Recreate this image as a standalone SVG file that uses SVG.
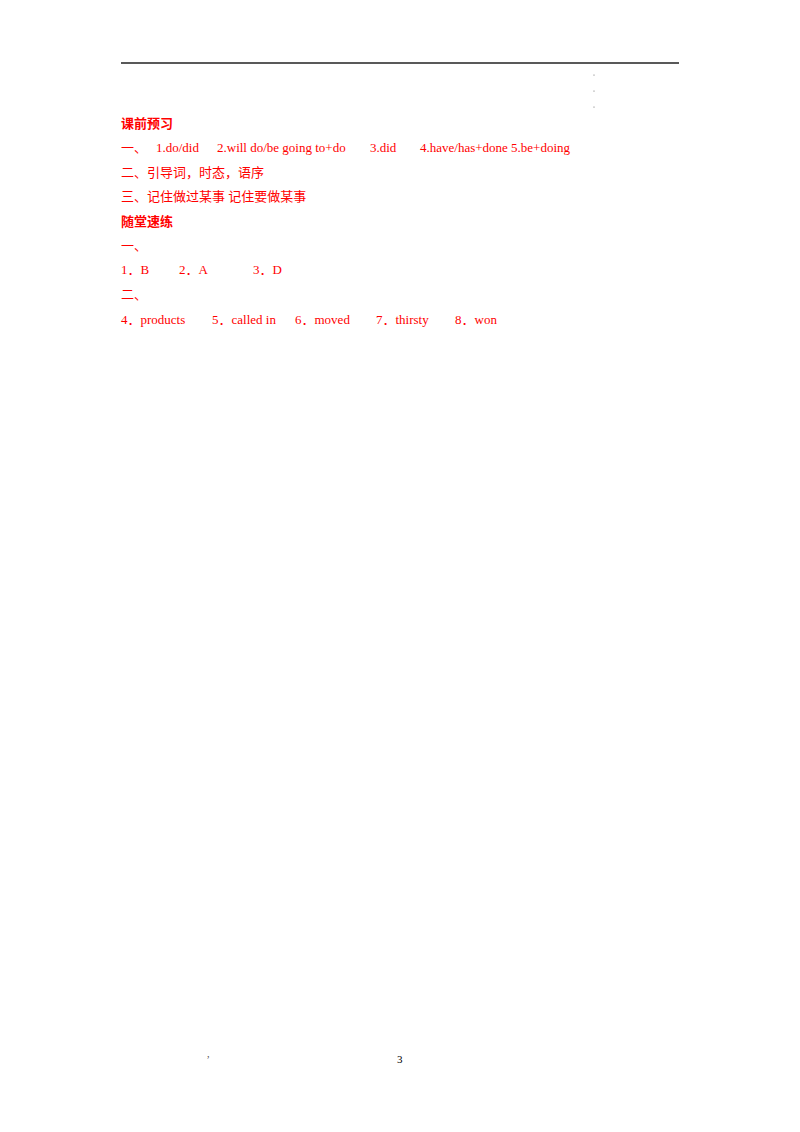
<svg xmlns="http://www.w3.org/2000/svg" width="800" height="1132" viewBox="0 0 800 1132">
<style>
.t{font-family:"Liberation Serif","Noto Sans CJK SC",serif;font-size:13px;fill:#ff0000}
.h{font-family:"Noto Sans CJK SC",sans-serif;font-size:13px;font-weight:bold;fill:#ff0000}
.d{fill:#666}
</style>
<rect width="800" height="1132" fill="#fff"/>
<line x1="121" y1="63" x2="679" y2="63" stroke="#222" stroke-width="1.5"/>
<circle class="d" cx="594" cy="75" r="0.6"/><circle class="d" cx="594" cy="91" r="0.6"/><circle class="d" cx="594" cy="107" r="0.6"/>
<text class="h" x="121" y="128">课前预习</text>
<text class="t" x="121" y="152">一、</text>
<text class="t" x="156" y="152">1.do/did</text>
<text class="t" x="217" y="152">2.will do/be going to+do</text>
<text class="t" x="370" y="152">3.did</text>
<text class="t" x="420" y="152">4.have/has+done 5.be+doing</text>
<text class="t" x="121" y="177">二、引导词，时态，语序</text>
<text class="t" x="121" y="201">三、记住做过某事  记住要做某事</text>
<text class="h" x="121" y="226">随堂速练</text>
<text class="t" x="121" y="250">一、</text>
<text class="t" x="121" y="274">1．B</text>
<text class="t" x="179" y="274">2．A</text>
<text class="t" x="253" y="274">3．D</text>
<text class="t" x="121" y="299">二、</text>
<text class="t" x="121" y="324">4．products</text>
<text class="t" x="212" y="324">5．called in</text>
<text class="t" x="295" y="324">6．moved</text>
<text class="t" x="376" y="324">7．thirsty</text>
<text class="t" x="455" y="324">8．won</text>
<text x="207" y="1057" font-family="Liberation Serif,serif" font-size="10" fill="#444">,</text>
<text x="397" y="1063" font-family="Liberation Serif,serif" font-size="11" fill="#000">3</text>
</svg>
